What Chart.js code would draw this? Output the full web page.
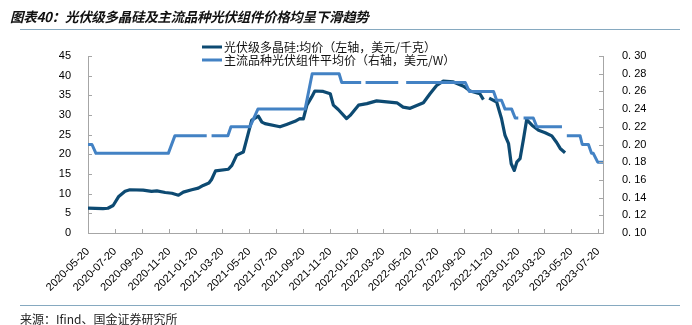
<!DOCTYPE html>
<html>
<head>
<meta charset="utf-8">
<script src="https://cdn.jsdelivr.net/npm/chart.js@4/dist/chart.umd.min.js"></script>
<style>
  html, body { margin: 0; padding: 0; background: #fff; }
  #wrap { position: relative; width: 692px; height: 325px; overflow: hidden; }
  #title {
    position: absolute; left: 10px; top: 6px; line-height: 18px; white-space: nowrap;
    font: italic bold 13.5px "Noto Sans CJK SC", sans-serif; color: #111; letter-spacing: -0.3px;
  }
  .rule { position: absolute; left: 20px; width: 660px; height: 0; border-top: 1.5px solid #86a9c0; }
  #src {
    position: absolute; left: 20px; top: 310px; line-height: 14px; white-space: nowrap;
    font: 12px "Noto Sans CJK SC", sans-serif; color: #222;
  }
  canvas { position: absolute; left: 0; top: 0; }
</style>
</head>
<body>
<div id="wrap">
  <canvas id="chart" width="692" height="325"></canvas>
  <div id="title">图表40：光伏级多晶硅及主流品种光伏组件价格均呈下滑趋势</div>
  <div class="rule" style="top:29px"></div>
  <div class="rule" style="top:305px"></div>
  <div id="src">来源：Ifind、国金证券研究所</div>
</div>
<script>
// Polysilicon average price, USD/kg (left axis)
const siliconDates = [
  '2020-05-20','2020-06-23','2020-07-04','2020-07-16','2020-07-28','2020-08-12','2020-08-23',
  '2020-09-22','2020-10-11','2020-10-23','2020-11-11','2020-11-26','2020-12-11','2020-12-22',
  '2021-01-10','2021-01-25','2021-02-05','2021-02-18','2021-02-24','2021-03-05','2021-04-03',
  '2021-04-11','2021-04-22','2021-05-07','2021-05-15','2021-05-26','2021-06-10','2021-06-18',
  '2021-06-25','2021-07-29','2021-08-13','2021-09-01','2021-09-12','2021-09-20','2021-09-28',
  '2021-10-09','2021-10-16','2021-11-04','2021-11-20','2021-11-27','2021-12-08','2021-12-27',
  '2022-01-04','2022-01-23','2022-02-11','2022-03-05','2022-04-20','2022-05-04','2022-05-20',
  '2022-06-19','2022-07-04','2022-07-19','2022-08-03','2022-08-26','2022-09-18','2022-10-03',
  '2022-10-25','2022-11-02','2022-11-08','2022-11-15','2022-12-02','2022-12-13','2022-12-21',
  '2022-12-29','2023-01-04','2023-01-11','2023-01-17','2023-01-24','2023-02-01','2023-02-08',
  '2023-02-20','2023-03-07','2023-03-22','2023-04-06','2023-04-17','2023-04-25','2023-05-06'
];
const siliconPrices = [
  6.3, 6.2, 6.3, 7.0, 9.2, 10.6, 11.0,
  10.9, 10.6, 10.7, 10.3, 10.1, 9.6, 10.4,
  11.0, 11.4, 12.1, 12.7, 13.6, 15.8, 16.2,
  17.2, 19.8, 20.6, 24.0, 28.7, 29.7, 28.2,
  27.8, 27.0, 27.6, 28.4, 29.1, 29.0, 32.5,
  34.6, 36.1, 36.0, 35.4, 32.5, 31.4, 29.1,
  29.9, 32.5, 32.9, 33.6, 33.1, 32.0, 31.7,
  33.1, 35.4, 37.5, 38.6, 38.4, 37.3, 36.1,
  35.4, 33.9, null, 34.3, 33.3, 29.1, 24.8,
  22.7, 17.6, 15.9, 18.1, 18.9, 24.0, 28.8,
  27.4, 26.1, 25.5, 24.7, 23.0, 21.5, 20.4
];

// Mainstream module average price, USD/W (right axis)
const moduleDates = [
  '2020-05-20','2020-05-29','2020-06-07','2020-11-18','2020-12-03','2021-02-13','2021-02-18',
  '2021-02-24','2021-04-02','2021-04-09','2021-05-22','2021-06-09','2021-09-24','2021-10-10',
  '2021-12-10','2021-12-16','2022-01-29','2022-02-03','2022-02-08','2022-04-23','2022-05-01',
  '2022-05-11','2022-09-22','2022-10-01','2022-11-25','2022-12-02','2022-12-13','2022-12-21',
  '2023-01-05','2023-01-13','2023-01-20','2023-01-27','2023-02-01','2023-02-23','2023-03-03',
  '2023-04-29','2023-05-05','2023-05-10','2023-06-09','2023-06-14','2023-06-28','2023-07-05',
  '2023-07-09','2023-07-19','2023-07-31'
];
const modulePrices = [
  0.20, 0.20, 0.19, 0.19, 0.21, 0.21, null,
  0.21, 0.21, 0.22, 0.22, 0.24, 0.24, 0.28,
  0.28, 0.27, 0.27, null, 0.27, 0.27, null,
  0.27, 0.27, 0.26, 0.26, 0.25, 0.25, 0.24,
  0.24, 0.23, 0.23, null, 0.23, 0.23, 0.22,
  0.22, null, 0.21, 0.21, 0.20, 0.20, 0.19,
  0.19, 0.18, 0.18
];

// Category ticks shown along the date axis
const tickDates = [
  '2020-05-20','2020-07-20','2020-09-20','2020-11-20','2021-01-20','2021-03-20','2021-05-20',
  '2021-07-20','2021-09-20','2021-11-20','2022-01-20','2022-03-20','2022-05-20','2022-07-20',
  '2022-09-20','2022-11-20','2023-01-20','2023-03-20','2023-05-20','2023-07-20'
];
const axisEnd = '2023-07-31';

const siliconLabel = '光伏级多晶硅:均价（左轴，美元/千克）';
const moduleLabel = '主流品种光伏组件平均价（右轴，美元/W）';

const DAY = 86400000;
const base = Date.parse(tickDates[0] + 'T00:00:00Z');
const dayOf = s => (Date.parse(s + 'T00:00:00Z') - base) / DAY;
const toPoints = (dates, vals) => dates.map((d, i) => ({ x: dayOf(d), y: vals[i] }));

const AXIS_COLOR = '#a6a6a6';
const TICK_FONT = { family: '"Liberation Sans", Arial, sans-serif', size: 11 };

// Tick marks that point into the plot area
const innerTicks = {
  id: 'innerTicks',
  afterDatasetsDraw(chart) {
    const { ctx, chartArea: a, scales } = chart;
    ctx.save();
    ctx.strokeStyle = AXIS_COLOR;
    ctx.lineWidth = 1;
    ctx.beginPath();
    scales.x.ticks.forEach(t => {
      const px = Math.round(scales.x.getPixelForValue(t.value)) + 0.5;
      ctx.moveTo(px, a.bottom); ctx.lineTo(px, a.bottom - 4);
    });
    scales.y.ticks.forEach(t => {
      const py = Math.round(scales.y.getPixelForValue(t.value)) + 0.5;
      ctx.moveTo(a.left, py); ctx.lineTo(a.left + 4, py);
    });
    scales.y1.ticks.forEach(t => {
      const py = Math.round(scales.y1.getPixelForValue(t.value)) + 0.5;
      ctx.moveTo(a.right, py); ctx.lineTo(a.right - 4, py);
    });
    ctx.stroke();
    ctx.restore();
  }
};

// Two-row legend placed inside the plot
const insideLegend = {
  id: 'insideLegend',
  afterDraw(chart) {
    const ctx = chart.ctx;
    ctx.save();
    ctx.font = '12px "Noto Sans CJK SC", sans-serif';
    ctx.textBaseline = 'middle';
    chart.data.datasets.forEach((ds, i) => {
      const y = 47 + i * 13;
      ctx.strokeStyle = ds.borderColor;
      ctx.lineWidth = 3;
      ctx.beginPath(); ctx.moveTo(202, y); ctx.lineTo(222, y); ctx.stroke();
      ctx.fillStyle = '#111';
      ctx.fillText(ds.label, 224, y);
    });
    ctx.restore();
  }
};

new Chart(document.getElementById('chart'), {
  type: 'line',
  data: {
    datasets: [
      {
        label: siliconLabel,
        data: toPoints(siliconDates, siliconPrices),
        yAxisID: 'y',
        borderColor: '#0d4a72',
        borderWidth: 3.2,
        pointRadius: 0,
        tension: 0,
        borderJoinStyle: 'round',
        order: 1
      },
      {
        label: moduleLabel,
        data: toPoints(moduleDates, modulePrices),
        yAxisID: 'y1',
        borderColor: '#4382c4',
        borderWidth: 3,
        pointRadius: 0,
        tension: 0,
        borderJoinStyle: 'round',
        order: 0
      }
    ]
  },
  options: {
    responsive: false,
    devicePixelRatio: 1,
    animation: false,
    layout: { padding: { top: 56, left: 0, right: 0, bottom: 0 } },
    plugins: { legend: { display: false }, tooltip: { enabled: false }, title: { display: false } },
    scales: {
      x: {
        type: 'linear',
        min: 0,
        max: dayOf(axisEnd),
        grid: { display: false },
        border: { display: true, color: AXIS_COLOR, width: 1 },
        afterBuildTicks: scale => { scale.ticks = tickDates.map(d => ({ value: dayOf(d) })); },
        afterFit: scale => { scale.height = 92; },
        ticks: {
          autoSkip: false,
          minRotation: 45,
          maxRotation: 45,
          padding: 4,
          color: '#000',
          font: TICK_FONT,
          callback: (v, i) => tickDates[i]
        }
      },
      y: {
        position: 'left',
        min: 0,
        max: 45,
        grid: { display: false },
        border: { display: true, color: AXIS_COLOR, width: 1 },
        afterFit: scale => { scale.width = 88; },
        ticks: { stepSize: 5, padding: 9, color: '#000', font: TICK_FONT }
      },
      y1: {
        position: 'right',
        min: 0.1,
        max: 0.3,
        grid: { display: false },
        border: { display: true, color: AXIS_COLOR, width: 1 },
        afterFit: scale => { scale.width = 89; },
        ticks: {
          stepSize: 0.02,
          padding: 11,
          color: '#000',
          font: TICK_FONT,
          callback: v => v.toFixed(2).replace('.', '. ')
        }
      }
    }
  },
  plugins: [innerTicks, insideLegend]
});
</script>
</body>
</html>
